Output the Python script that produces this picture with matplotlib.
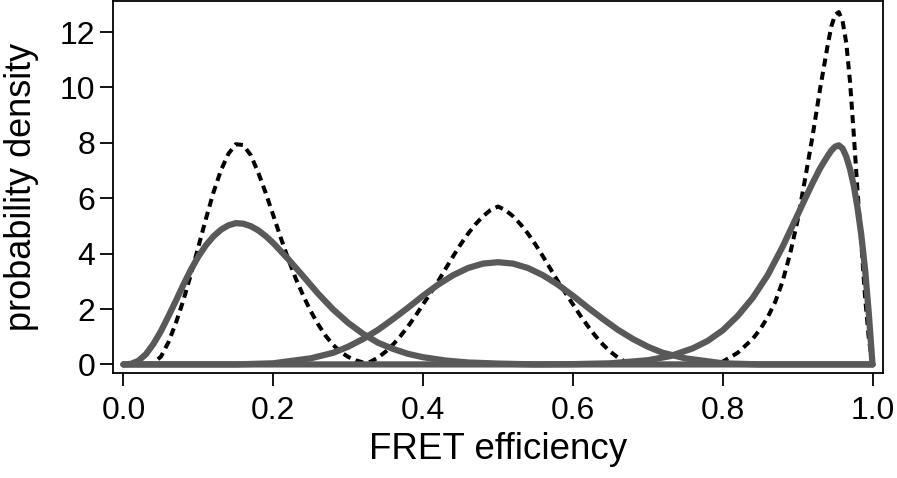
import matplotlib
matplotlib.use('Agg')
import matplotlib.pyplot as plt

# ---------------- style ----------------
plt.rcParams['font.family'] = ['Liberation Sans', 'DejaVu Sans']
GRAY = '#595959'

# ---------------- data ----------------
# solid gray densities
gray_left_x = [0.00, 0.01, 0.02, 0.03, 0.04, 0.05, 0.06, 0.07, 0.08, 0.09, 0.10,
               0.11, 0.12, 0.13, 0.14, 0.15, 0.16, 0.17, 0.18, 0.19, 0.20,
               0.22, 0.24, 0.26, 0.28, 0.30, 0.32, 0.34, 0.36, 0.38, 0.40,
               0.43, 0.46, 0.50, 0.55, 1.00]
gray_left_y = [0.00, 0.02, 0.13, 0.37, 0.74, 1.20, 1.74, 2.30, 2.88, 3.42, 3.90,
               4.30, 4.62, 4.86, 5.02, 5.10, 5.08, 4.99, 4.84, 4.63, 4.38,
               3.80, 3.18, 2.55, 1.98, 1.50, 1.10, 0.78, 0.56, 0.38, 0.26,
               0.14, 0.07, 0.03, 0.00, 0.00]

gray_mid_x = [0.00, 0.15, 0.20, 0.25, 0.28,
              0.30, 0.32, 0.34, 0.36, 0.38, 0.40, 0.42, 0.44, 0.46, 0.48, 0.50,
              0.52, 0.54, 0.56, 0.58, 0.60, 0.62, 0.64, 0.66, 0.68, 0.70, 0.72,
              0.75, 0.80, 0.85, 1.00]
gray_mid_y = [0.00, 0.00, 0.04, 0.22, 0.42,
              0.64, 0.92, 1.25, 1.64, 2.05, 2.48, 2.88, 3.22, 3.48, 3.64, 3.69,
              3.64, 3.48, 3.22, 2.88, 2.48, 2.05, 1.64, 1.25, 0.92, 0.64, 0.42,
              0.22, 0.04, 0.00, 0.00]

gray_right_x = [0.00, 0.55, 0.60, 0.65, 0.70, 0.73, 0.76, 0.78, 0.80, 0.82, 0.84,
                0.86, 0.88, 0.90, 0.91, 0.92, 0.93, 0.94, 0.945, 0.95, 0.955,
                0.96, 0.965, 0.97, 0.975, 0.98, 0.985, 0.99, 0.995, 1.00]
gray_right_y = [0.00, 0.00, 0.01, 0.04, 0.15, 0.30, 0.58, 0.85, 1.23, 1.75, 2.40,
                3.22, 4.25, 5.40, 5.98, 6.55, 7.08, 7.52, 7.72, 7.86, 7.91,
                7.80, 7.50, 7.05, 6.45, 5.65, 4.68, 3.45, 1.85, 0.00]

# dashed black densities
dash_left_x = [0.03, 0.04, 0.05, 0.06, 0.07, 0.08, 0.09, 0.10, 0.11, 0.12, 0.13,
               0.14, 0.15, 0.16, 0.17, 0.18, 0.19, 0.20, 0.21, 0.22, 0.23, 0.24,
               0.25, 0.26, 0.27, 0.28, 0.29, 0.30, 0.31, 0.32, 0.33, 0.34]
dash_left_y = [0.00, 0.05, 0.28, 0.80, 1.50, 2.32, 3.25, 4.25, 5.25, 6.20, 7.00,
               7.60, 7.95, 7.92, 7.55, 6.92, 6.18, 5.38, 4.57, 3.80, 3.10, 2.48,
               1.92, 1.44, 1.03, 0.70, 0.45, 0.27, 0.15, 0.07, 0.02, 0.00]

dash_mid_x = [0.31, 0.32, 0.33, 0.34, 0.35, 0.36, 0.37, 0.38, 0.39, 0.40,
              0.41, 0.42, 0.43, 0.44, 0.45, 0.46, 0.47, 0.48, 0.49, 0.50,
              0.51, 0.52, 0.53, 0.54, 0.55, 0.56, 0.57, 0.58, 0.59, 0.60,
              0.61, 0.62, 0.63, 0.64, 0.65, 0.66, 0.67, 0.68, 0.69]
dash_mid_y = [0.00, 0.03, 0.10, 0.25, 0.46, 0.72, 1.03, 1.38, 1.76, 2.17,
              2.58, 3.00, 3.45, 3.90, 4.33, 4.72, 5.06, 5.35, 5.57, 5.70,
              5.57, 5.35, 5.06, 4.72, 4.33, 3.90, 3.45, 3.00, 2.58, 2.17,
              1.76, 1.38, 1.03, 0.72, 0.46, 0.25, 0.10, 0.03, 0.00]

dash_right_x = [0.78, 0.80, 0.82, 0.84, 0.85, 0.86, 0.87, 0.88, 0.89, 0.90, 0.91,
                0.92, 0.93, 0.94, 0.945, 0.95, 0.955, 0.96, 0.965, 0.97, 0.975,
                0.98, 0.985, 0.99, 0.995, 1.00]
dash_right_y = [0.00, 0.10, 0.42, 0.92, 1.27, 1.70, 2.25, 3.00, 4.00, 5.20, 6.70,
                8.25, 9.95, 11.50, 12.20, 12.62, 12.72, 12.40, 11.60, 10.20, 8.30,
                6.25, 4.40, 2.45, 0.95, 0.00]

x_ticks = [0.0, 0.2, 0.4, 0.6, 0.8, 1.0]
y_ticks = [0, 2, 4, 6, 8, 10, 12]

# ---------------- plot ----------------
fig = plt.figure(figsize=(8.97, 4.78), dpi=100)
ax = fig.add_axes([113.3 / 897, 1 - 373 / 478, 769.4 / 897, 372 / 478])

for xs, ys in [(dash_left_x, dash_left_y), (dash_mid_x, dash_mid_y),
               (dash_right_x, dash_right_y)]:
    ax.plot(xs, ys, color='black', lw=2.9, linestyle=(0, (2.0, 1.35)),
            dash_capstyle='butt')

for xs, ys in [(gray_left_x, gray_left_y), (gray_mid_x, gray_mid_y),
               (gray_right_x, gray_right_y)]:
    ax.plot(xs, ys, color=GRAY, lw=4.5, solid_capstyle='round',
            solid_joinstyle='round')

ax.set_xlim(-0.0136, 1.0136)
ax.set_ylim(-0.31, 13.12)
ax.set_xticks(x_ticks)
ax.set_xticklabels([f'{v:.1f}' for v in x_ticks])
ax.set_yticks(y_ticks)

for sp in ax.spines.values():
    sp.set_linewidth(1.3)
ax.tick_params(direction='out', length=9.5, width=1.3, labelsize=23)
ax.tick_params(axis='x', pad=7)
ax.tick_params(axis='y', pad=3.5)

ax.set_xlabel('FRET efficiency', fontsize=26.5)
ax.set_ylabel('probability density', fontsize=26)
ax.xaxis.set_label_coords(0.5, -0.158)
ax.yaxis.set_label_coords(-0.097, 0.5)

fig.savefig('out.png', dpi=100)
